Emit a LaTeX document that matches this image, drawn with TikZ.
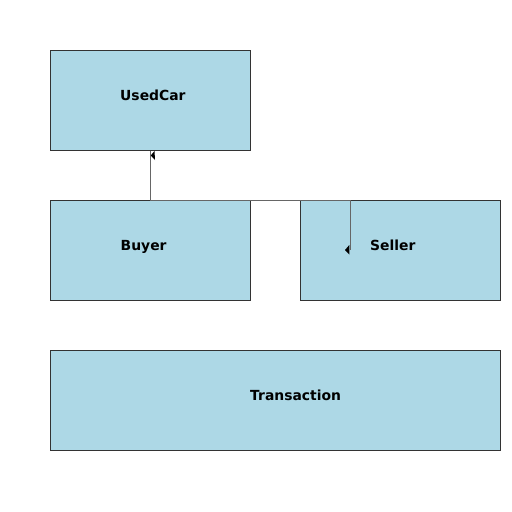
\documentclass[tikz,border=0pt]{standalone}
\usepackage{fontspec}
\setmainfont{DejaVu Sans}
\begin{document}
\begin{tikzpicture}[x=1pt,y=-1pt,
  box/.style={draw=black!80,line width=0.8pt,fill=boxblue,inner sep=0pt,anchor=north west},
  lbl/.style={font=\fontsize{13.9}{16}\selectfont\bfseries,inner sep=0pt,anchor=base west},
  conn/.style={draw=black!60,line width=0.9pt},
  tip/.style={fill=black,draw=none}]
\definecolor{boxblue}{RGB}{173,216,230}
\useasboundingbox (0,0) rectangle (512,512);
\node[box,minimum width=200pt,minimum height=100pt] (usedcar) at (50,50) {};
\node[box,minimum width=200pt,minimum height=100pt] (buyer) at (50,200) {};
\node[box,minimum width=200pt,minimum height=100pt] (seller) at (300,200) {};
\node[box,minimum width=450pt,minimum height=100pt] (transaction) at (50,350) {};
\node[lbl] (tusedcar) at (120,100) {UsedCar};
\node[lbl] (tbuyer) at (120.5,250) {Buyer};
\node[lbl] (tseller) at (370,250) {Seller};
\node[lbl] (ttransaction) at (250,400) {Transaction};
\coordinate (corner) at (350,200);
\coordinate (sellerend) at (350,250);
\draw[conn] (usedcar.south) -- (buyer.north) -- (corner) -- (sellerend);
\fill[tip] (150.8,155.5) -- (154.5,151) -- (155,160) -- cycle;
\fill[tip] (345,250) -- (349.3,245) -- (349.3,254.5) -- cycle;
\end{tikzpicture}
\end{document}
